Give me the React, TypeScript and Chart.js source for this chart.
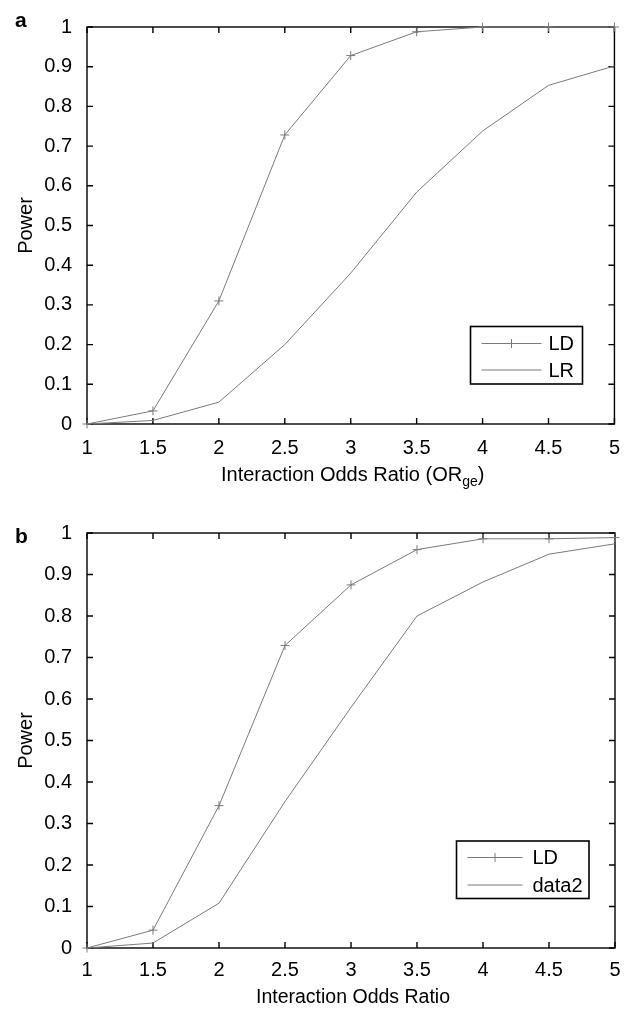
import React, { useEffect, useRef } from "react";
import { Chart, registerables } from "chart.js";

Chart.register(...registerables);

// ---- data ----
const xValues = [1, 1.5, 2, 2.5, 3, 3.5, 4, 4.5, 5];
const xTicks = [1, 1.5, 2, 2.5, 3, 3.5, 4, 4.5, 5];
const yTicks = [0, 0.1, 0.2, 0.3, 0.4, 0.5, 0.6, 0.7, 0.8, 0.9, 1];

const topLD = [0, 0.033, 0.31, 0.728, 0.928, 0.988, 1, 1, 1];
const topLR = [0, 0.009, 0.055, 0.2, 0.38, 0.584, 0.738, 0.853, 0.902];
const bottomLD = [0, 0.043, 0.343, 0.729, 0.875, 0.96, 0.986, 0.986, 0.989];
const bottomData2 = [0, 0.012, 0.108, 0.353, 0.58, 0.8, 0.882, 0.949, 0.974];

const topSeriesNames = ["LD", "LR"];
const bottomSeriesNames = ["LD", "data2"];

const FONT = "'Liberation Sans', Arial, Helvetica, sans-serif";
const LINE = "#7a7a7a";

type PanelCfg = {
  id: string;
  letter: string;
  height: number;
  top: number;
  bottomAxis: number;
  tickPad: number;
  letterBaseline: number;
  titleMain: string;
  titleSub: string;
  titleTail: string;
  titleSize: number;
  titleBaseline: number;
  legend: { x: number; y: number; w: number; h: number; pad: number; lineLen: number; gap: number; row1: number; row2: number };
  names: string[];
  s1: number[];
  s2: number[];
};

const panels: PanelCfg[] = [
  {
    id: "a",
    letter: "a",
    height: 500,
    top: 18,
    bottomAxis: 76,
    tickPad: 12,
    letterBaseline: 27,
    titleMain: "Interaction Odds Ratio (OR",
    titleSub: "ge",
    titleTail: ")",
    titleSize: 20,
    titleBaseline: 481,
    legend: { x: 470.5, y: 326.5, w: 112, h: 57.5, pad: 11, lineLen: 60, gap: 7, row1: 343.5, row2: 370 },
    names: topSeriesNames,
    s1: topLD,
    s2: topLR,
  },
  {
    id: "b",
    letter: "b",
    height: 509,
    top: 33,
    bottomAxis: 61,
    tickPad: 10,
    letterBaseline: 43,
    titleMain: "Interaction Odds Ratio",
    titleSub: "",
    titleTail: "",
    titleSize: 19.5,
    titleBaseline: 503,
    legend: { x: 456.5, y: 341, w: 132.5, h: 57.5, pad: 11, lineLen: 55, gap: 10, row1: 357.5, row2: 385 },
    names: bottomSeriesNames,
    s1: bottomLD,
    s2: bottomData2,
  },
];

function makePlugin(cfg: PanelCfg) {
  return {
    id: "frame_" + cfg.id,
    beforeDatasetsDraw(chart: any) {
      const { ctx, chartArea: a, scales } = chart;
      const xs = scales.x;
      const ys = scales.y;
      ctx.save();
      ctx.strokeStyle = "#000";
      ctx.lineWidth = 1.4;
      ctx.strokeRect(a.left, a.top, a.right - a.left, a.bottom - a.top);
      ctx.beginPath();
      const tl = 6;
      for (const v of xTicks) {
        const px = xs.getPixelForValue(v);
        ctx.moveTo(px, a.bottom);
        ctx.lineTo(px, a.bottom - tl);
        ctx.moveTo(px, a.top);
        ctx.lineTo(px, a.top + tl);
      }
      for (const v of yTicks) {
        const py = ys.getPixelForValue(v);
        ctx.moveTo(a.left, py);
        ctx.lineTo(a.left + tl, py);
        ctx.moveTo(a.right, py);
        ctx.lineTo(a.right - tl, py);
      }
      ctx.stroke();
      ctx.restore();
    },
    afterDraw(chart: any) {
      const { ctx, chartArea: a } = chart;
      ctx.save();
      ctx.fillStyle = "#000";
      // panel letter
      ctx.font = `bold 21px ${FONT}`;
      ctx.textAlign = "left";
      ctx.textBaseline = "alphabetic";
      ctx.fillText(cfg.letter, 15, cfg.letterBaseline);

      // y title
      ctx.font = `20px ${FONT}`;
      ctx.save();
      ctx.translate(31.5, (a.top + a.bottom) / 2);
      ctx.rotate(-Math.PI / 2);
      ctx.textAlign = "center";
      ctx.fillText("Power", 0, 0);
      ctx.restore();

      // x title with subscript
      const mainFont = `${cfg.titleSize}px ${FONT}`;
      const subFont = `14px ${FONT}`;
      ctx.font = mainFont;
      const w1 = ctx.measureText(cfg.titleMain).width;
      const w3 = ctx.measureText(cfg.titleTail).width;
      ctx.font = subFont;
      const w2 = cfg.titleSub ? ctx.measureText(cfg.titleSub).width : 0;
      const total = w1 + w2 + w3;
      let x = (a.left + a.right) / 2 + 2 - total / 2;
      ctx.textAlign = "left";
      ctx.font = mainFont;
      ctx.fillText(cfg.titleMain, x, cfg.titleBaseline);
      x += w1;
      if (cfg.titleSub) {
        ctx.font = subFont;
        ctx.fillText(cfg.titleSub, x, cfg.titleBaseline + 5);
        x += w2;
      }
      if (cfg.titleTail) {
        ctx.font = mainFont;
        ctx.fillText(cfg.titleTail, x, cfg.titleBaseline);
      }

      // legend
      const L = cfg.legend;
      ctx.fillStyle = "#fff";
      ctx.fillRect(L.x, L.y, L.w, L.h);
      ctx.strokeStyle = "#000";
      ctx.lineWidth = 1.6;
      ctx.strokeRect(L.x, L.y, L.w, L.h);
      const rows = [L.row1, L.row2];
      const x0 = L.x + L.pad;
      const x1 = x0 + L.lineLen;
      rows.forEach((ry, i) => {
        ctx.strokeStyle = LINE;
        ctx.lineWidth = 1;
        ctx.beginPath();
        ctx.moveTo(x0, ry);
        ctx.lineTo(x1, ry);
        if (i === 0) {
          const cx = (x0 + x1) / 2;
          ctx.moveTo(cx - 4.5, ry);
          ctx.lineTo(cx + 4.5, ry);
          ctx.moveTo(cx, ry - 4.5);
          ctx.lineTo(cx, ry + 4.5);
        }
        ctx.stroke();
        ctx.fillStyle = "#000";
        ctx.font = `20px ${FONT}`;
        ctx.textAlign = "left";
        ctx.textBaseline = "middle";
        ctx.fillText(cfg.names[i], x1 + L.gap, ry + 1);
      });
      ctx.restore();
    },
  };
}

function Panel({ cfg }: { cfg: PanelCfg }) {
  const ref = useRef<HTMLCanvasElement | null>(null);
  useEffect(() => {
    if (!ref.current) return;
    const chart = new Chart(ref.current, {
      type: "line",
      data: {
        datasets: [
          {
            label: cfg.names[0],
            data: xValues.map((x, i) => ({ x, y: cfg.s1[i] })),
            borderColor: LINE,
            borderWidth: 1,
            pointStyle: "cross",
            pointRadius: 4.5,
            pointBorderColor: LINE,
            pointBorderWidth: 1,
            pointBackgroundColor: LINE,
            tension: 0,
            clip: false,
          },
          {
            label: cfg.names[1],
            data: xValues.map((x, i) => ({ x, y: cfg.s2[i] })),
            borderColor: LINE,
            borderWidth: 1,
            pointRadius: 0,
            tension: 0,
            clip: false,
          },
        ],
      },
      options: {
        responsive: false,
        animation: false,
        events: [],
        layout: { padding: { left: 0, right: 17, top: cfg.top, bottom: 0 } },
        plugins: { legend: { display: false }, tooltip: { enabled: false }, title: { display: false } },
        scales: {
          x: {
            type: "linear",
            min: 1,
            max: 5,
            grid: { display: false, drawTicks: false, tickLength: 0 },
            border: { display: false },
            ticks: {
              autoSkip: false,
              maxRotation: 0,
              padding: cfg.tickPad,
              color: "#000",
              font: { family: FONT, size: 20 },
              callback: (v: any) => String(v),
            },
            afterBuildTicks: (s: any) => {
              s.ticks = xTicks.map((v) => ({ value: v }));
            },
            afterFit: (s: any) => {
              s.height = cfg.bottomAxis;
            },
          },
          y: {
            type: "linear",
            min: 0,
            max: 1,
            grid: { display: false, drawTicks: false, tickLength: 0 },
            border: { display: false },
            ticks: {
              padding: 15,
              color: "#000",
              font: { family: FONT, size: 20 },
              callback: (v: any) => String(v),
            },
            afterBuildTicks: (s: any) => {
              s.ticks = yTicks.map((v) => ({ value: v }));
            },
            afterFit: (s: any) => {
              s.width = 87;
            },
          },
        },
      } as any,
      plugins: [makePlugin(cfg)],
    });
    return () => chart.destroy();
  }, [cfg]);
  return <canvas ref={ref} width={632} height={cfg.height} style={{ display: "block" }} />;
}

export default function App() {
  return (
    <div style={{ position: "absolute", left: 0, top: 0, width: 632, height: 1009, background: "#fff" }}>
      {panels.map((p) => (
        <Panel key={p.id} cfg={p} />
      ))}
    </div>
  );
}
